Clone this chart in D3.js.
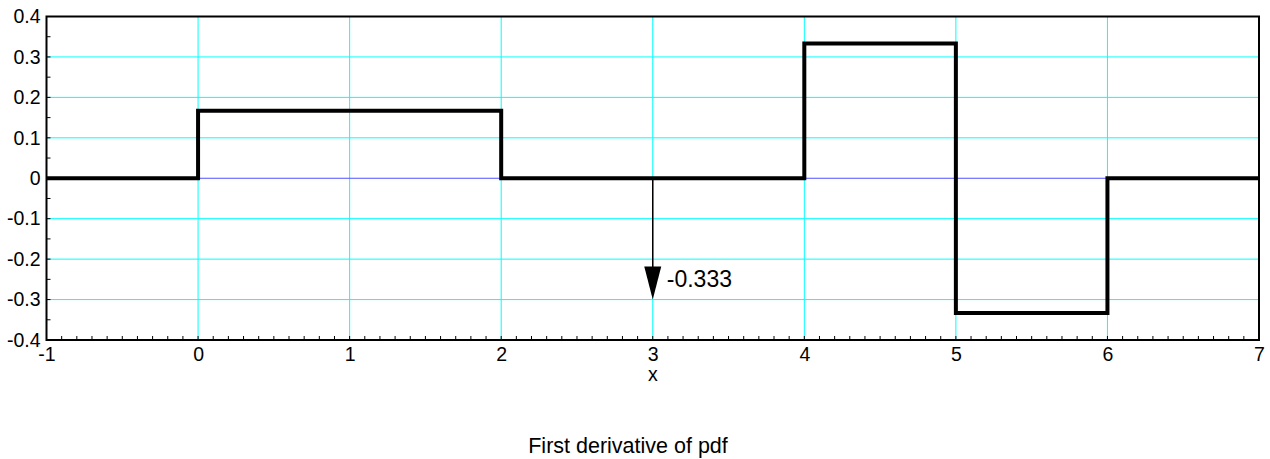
<!DOCTYPE html>
<html><head><meta charset="utf-8">
<script src="https://cdn.jsdelivr.net/npm/d3@7"></script>
<style>body{margin:0;background:#fff}svg{display:block}text{font-family:"Liberation Sans",Arial,Helvetica,sans-serif;fill:#000}</style>
</head><body><svg id="c" width="1270" height="459"></svg>
<script>
// Data
const stepX = [-1, 0, 2, 4, 5, 6, 7];
const stepY = [0, 0.1667, 0, 0.3333, -0.3333, 0, 0];
const xTicks = [-1, 0, 1, 2, 3, 4, 5, 6, 7];
const yTicks = [-0.4, -0.3, -0.2, -0.1, 0, 0.1, 0.2, 0.3, 0.4];
const xGrid = [0, 1, 2, 3, 4, 5, 6];
const yGrid = [-0.3, -0.2, -0.1, 0.1, 0.2, 0.3];
const arrowX = [3];
const arrowFrom = [0];
const arrowTo = [-0.3];
const arrowLabel = ["-0.333"];
const xLabel = "x";
const title = "First derivative of pdf";

const svg = d3.select("#c");
const L = 46.5, R = 1259, T = 16.5, B = 340;
const x = d3.scaleLinear().domain([-1, 7]).range([L, R]);
const y = d3.scaleLinear().domain([-0.4, 0.4]).range([B, T]);

// grid
svg.append("g").selectAll("line").data(xGrid).join("line")
  .attr("x1", d => x(d)).attr("x2", d => x(d)).attr("y1", T).attr("y2", B)
  .attr("stroke", "#00ffff").attr("stroke-width", 1);
svg.append("g").selectAll("line").data(yGrid).join("line")
  .attr("y1", d => y(d)).attr("y2", d => y(d)).attr("x1", L).attr("x2", R)
  .attr("stroke", "#00ffff").attr("stroke-width", 1);
// zero line
svg.append("line").attr("x1", L).attr("x2", R).attr("y1", y(0)).attr("y2", y(0))
  .attr("stroke", "#5050ff").attr("stroke-width", 1);

// minor ticks
const xMinor = d3.range(-10, 71).map(i => i / 10);
svg.append("g").selectAll("line").data(xMinor).join("line")
  .attr("x1", d => x(d)).attr("x2", d => x(d)).attr("y1", B).attr("y2", B - 4)
  .attr("stroke", "#000").attr("stroke-width", 1);
const yMinor = d3.range(-8, 9).map(i => i * 0.05);
svg.append("g").selectAll("line").data(yMinor).join("line")
  .attr("y1", d => y(d)).attr("y2", d => y(d)).attr("x1", L).attr("x2", L + 4)
  .attr("stroke", "#000").attr("stroke-width", 1);

// step line
const pts = stepX.map((d, i) => [d, stepY[i]]);
svg.append("path").datum(pts)
  .attr("d", d3.line().x(d => x(d[0])).y(d => y(d[1])).curve(d3.curveStepAfter))
  .attr("fill", "none").attr("stroke", "#000").attr("stroke-width", 4)
  .attr("stroke-linejoin", "miter");

// frame
svg.append("rect").attr("x", L).attr("y", T).attr("width", R - L).attr("height", B - T)
  .attr("fill", "none").attr("stroke", "#000").attr("stroke-width", 2);

const fmtX = d => String(d).replace("\u2212", "-");
const fmtY = d => d === 0 ? "0" : d.toFixed(1);

// axes labels
const xAxis = d3.axisBottom(x).tickValues(xTicks).tickSize(0).tickPadding(7).tickFormat(fmtX);
const gx = svg.append("g").attr("transform", `translate(0,${B})`).call(xAxis);
gx.select(".domain").remove();
gx.selectAll("text").attr("font-size", 19.5).attr("font-family", "Liberation Sans, Arial, sans-serif").attr("fill", "#000");
const yAxis = d3.axisLeft(y).tickValues(yTicks).tickSize(0).tickPadding(6).tickFormat(fmtY);
const gy = svg.append("g").attr("transform", `translate(${L},0)`).call(yAxis);
gy.select(".domain").remove();
gy.selectAll("text").attr("font-size", 19.5).attr("font-family", "Liberation Sans, Arial, sans-serif").attr("fill", "#000");

// arrow annotation
arrowX.forEach((ax, i) => {
  const px = x(ax), y0 = y(arrowFrom[i]), y1 = y(arrowTo[i]);
  svg.append("line").attr("x1", px).attr("x2", px).attr("y1", y0).attr("y2", y1 - 30)
    .attr("stroke", "#000").attr("stroke-width", 1.5);
  svg.append("path").attr("d", `M${px - 8.5},${y1 - 33} L${px + 8.5},${y1 - 33} L${px},${y1} Z`).attr("fill", "#000");
  svg.append("text").attr("x", px + 14).attr("y", y1 - 13).attr("font-size", 23).text(arrowLabel[i]);
});

svg.append("text").attr("x", x(3)).attr("y", 381).attr("text-anchor", "middle").attr("font-size", 19.5).text(xLabel);
svg.append("text").attr("x", 628).attr("y", 453).attr("text-anchor", "middle").attr("font-size", 21.5).text(title);
</script></body></html>
